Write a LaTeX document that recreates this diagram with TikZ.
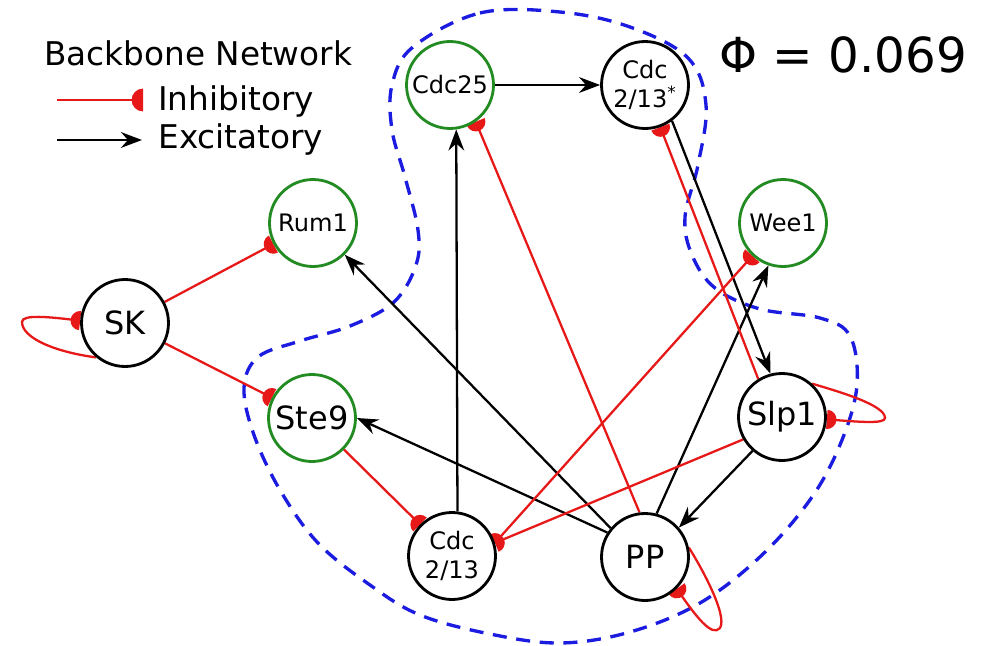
\documentclass[tikz,border=0pt]{standalone}
\usepackage{fontspec}
\setmainfont{DejaVu Sans}
\usetikzlibrary{arrows.meta}

\definecolor{nodegreen}{RGB}{34,139,34}
\definecolor{inhred}{RGB}{230,24,24}
\definecolor{hullblue}{RGB}{28,28,225}

% inhibitory tip: a filled half disc, flat side at the end of the line
\newdimen\blobline
\newdimen\blobback
\pgfdeclarearrow{
  name = HalfDisc,
  parameters = {\the\pgfarrowlength},
  setup code = {
    \blobline=-.5\pgfarrowlength
    \blobback=-\pgfarrowlength
    \pgfarrowssettipend{0pt}
    \pgfarrowssetlineend{\blobline}
    \pgfarrowssetbackend{\blobback}
    \pgfarrowssavethe\pgfarrowlength
  },
  drawing code = {
    \pgfpathmoveto{\pgfqpoint{0pt}{\pgfarrowlength}}
    \pgfpatharc{90}{270}{\pgfarrowlength}
    \pgfpathclose
    \pgfusepathqfill
  },
  defaults = {length = 5.5pt}
}

\pgfdeclarelayer{edges}
\pgfsetlayers{edges,main}

\begin{document}
\begin{tikzpicture}[x=0.02cm, y=-0.02cm,
  circ/.style={circle, draw, line width=1.6pt, fill=white, minimum size=1.74cm,
    inner sep=0pt, align=center},
  grn/.style={circ, draw=nodegreen},
  blk/.style={circ, draw=black},
  smalltxt/.style={font=\fontsize{13.7}{16.5}\selectfont},
  bigtxt/.style={font=\fontsize{18.2}{21}\selectfont},
  exc/.style={draw=black, line width=1.3pt, -{Stealth[length=12pt,width=9pt,inset=4pt]}},
  inh/.style={color=inhred, line width=1.3pt, -{HalfDisc[length=5.5pt]}},
  inhboth/.style={color=inhred, line width=1.3pt, {HalfDisc[length=5.5pt]}-{HalfDisc[length=5.5pt]}},
  hull/.style={draw=hullblue, line width=1.9pt, dash pattern=on 8pt off 5.5pt},
  legtxt/.style={anchor=base west, inner sep=0pt, font=\fontsize{18.6}{22}\selectfont}
]
\useasboundingbox (0,0) rectangle (985,646);

% legend
\node[legtxt] (legTitle) at (44,65) {Backbone Network};
\coordinate (legInhA) at (57,100);
\coordinate (legInhB) at (143,100);
\draw[inh, -{HalfDisc[length=6.5pt]}] (legInhA) -- (legInhB);
\node[legtxt] (legInh) at (158,110) {Inhibitory};
\coordinate (legExcA) at (57,140);
\coordinate (legExcB) at (142,140);
\draw[exc] (legExcA) -- (legExcB);
\node[legtxt] (legExc) at (158,148) {Excitatory};

% integrated information value
\node[anchor=base west, inner sep=0pt, font=\fontsize{27.5}{32}\selectfont] (phi) at (719,72) {Φ = 0.069};

% network nodes
\node[grn, smalltxt] (Cdc25)   at (450,85)  {Cdc25};
\node[blk, smalltxt] (Cdc213s) at (645,85)  {Cdc\\2/13\textsuperscript{*}};
\node[grn, smalltxt] (Rum1)    at (313,223) {Rum1};
\node[grn, smalltxt] (Wee1)    at (783,223) {Wee1};
\node[blk, bigtxt]   (SK)      at (125,323) {SK};
\node[grn, bigtxt]   (Ste9)    at (312,418) {Ste9};
\node[blk, bigtxt]   (Slp1)    at (782,417) {Slp1};
\node[blk, smalltxt] (Cdc213)  at (452,556) {Cdc\\2/13};
\node[blk, bigtxt]   (PP)      at (645,557) {PP};

\begin{pgfonlayer}{edges}
  % dashed boundary of the main complex
  \draw[hull] plot[smooth cycle, tension=0.6] coordinates {
    (413,47) (480,13) (560,12) (630,27) (688,58) (706,105) (698,165) (685,217)
    (692,255) (715,288) (760,309) (820,318) (850,336) (857,385) (842,440)
    (812,497) (762,555) (700,603) (630,632) (560,643) (490,634) (420,615)
    (370,585) (318,543) (280,490) (254,435) (244,388) (258,357) (300,341)
    (350,326) (394,302) (416,265) (418,230) (405,177) (392,130) (392,85)};

  % excitatory links
  \draw[exc] (Cdc25) -- (Cdc213s);
  \draw[exc] (Cdc213.83) -- (Cdc25.-82);
  \draw[exc] (PP.140) -- (Rum1.-45);
  \draw[exc] (PP.147) -- (Ste9.0);
  \draw[exc] (PP.75) -- (Wee1.-109);
  \draw[exc] (Slp1.-131) -- (PP.41);
  \draw[exc] (Cdc213s.-53) -- (Slp1.105);

  % inhibitory links
  \draw[inh] (SK) -- (Rum1);
  \draw[inh] (SK) -- (Ste9);
  \draw[inh] (Ste9) -- (Cdc213);
  \draw[inh] (PP.97) -- (Cdc25.-55);
  \draw[inh] (Slp1.122) -- (Cdc213s.-70);
  \draw[inhboth] (Wee1.-133) -- (Cdc213.17);
  \draw[inh] (Slp1.-150) -- (Cdc213.17);

  % self-inhibition loops
  \draw[inh] (SK.230) .. controls (55,352) and (22,338) .. (22,322)
    .. controls (22,314) and (50,317) .. (SK.177);
  \draw[inh] (Slp1.48) .. controls (840,392) and (885,405) .. (885,418)
    .. controls (885,424) and (860,422) .. (Slp1.-3);
  \draw[inh] (PP.12) .. controls (700,565) and (728,615) .. (720,628)
    .. controls (712,638) and (695,615) .. (PP.-45);
\end{pgfonlayer}
\end{tikzpicture}
\end{document}
